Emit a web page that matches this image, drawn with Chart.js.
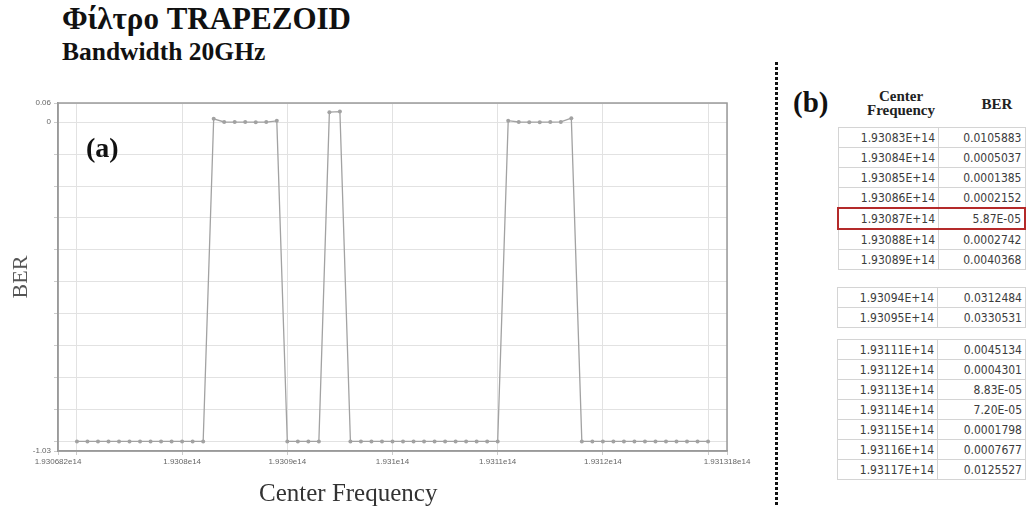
<!DOCTYPE html>
<html lang="el">
<head>
<meta charset="UTF-8">
<title>Φίλτρο TRAPEZOID</title>
<script src="https://cdn.jsdelivr.net/npm/chart.js"></script>
<style>
    body {
        margin: 0;
        width: 1026px;
        height: 507px;
        position: relative;
        overflow: hidden;
        background: #fff;
        font-family: 'Liberation Serif', 'Times New Roman', serif;
        color: #111;
    }
    .title {
        position: absolute; left: 62px; top: 3px;
        font-size: 31px; font-weight: bold; line-height: 1;
    }
    .subtitle {
        position: absolute; left: 62px; top: 39px;
        font-size: 25.5px; font-weight: bold; line-height: 1;
    }
    .panel {
        position: absolute; font-weight: bold; line-height: 1;
    }
    .x-title {
        position: absolute; left: 259px; top: 480px;
        font-size: 25px; line-height: 1; color: #333;
    }
    #chartBox {
        position: absolute; left: 0; top: 88px;
        width: 770px; height: 419px;
    }
    .divider {
        position: absolute; left: 775px; top: 62px;
        width: 3px; height: 445px;
        background: repeating-linear-gradient(to bottom, #111 0 3px, transparent 3px 5px);
    }
    .head {
        position: absolute; font-weight: bold; font-size: 15px;
        line-height: 14px; text-align: center; color: #222;
    }
    table.ber {
        position: absolute; left: 837px; width: 189px;
        border-collapse: collapse;
        font-family: 'DejaVu Sans Condensed', 'Liberation Sans', sans-serif;
        font-size: 12px; color: #3c3c3c;
        border: 1px solid #aaa;
    }
    table.ber td {
        border: 1px solid #d4d4d4;
        height: 19px;
        padding: 0 3px 0 0;
        text-align: right;
    }
    table.ber td:first-child { width: 96px; }
    table.ber tr.mark td { border-top: 2px solid #b42a2a; border-bottom: 2px solid #b42a2a; }
    table.ber tr.mark td:first-child { border-left: 2px solid #b42a2a; }
    table.ber tr.mark td:last-child { border-right: 2px solid #b42a2a; }
</style>
</head>
<body>

<div class="title">Φίλτρο TRAPEZOID</div>
<div class="subtitle">Bandwidth 20GHz</div>

<div id="chartBox"><canvas id="berChart"></canvas></div>
<div class="panel" style="left:86px; top:134px; font-size:28px;">(a)</div>
<div class="x-title">Center Frequency</div>

<div class="divider"></div>
<div class="panel" style="left:793px; top:88px; font-size:29px;">(b)</div>
<div class="head" style="left:858px; top:89px; width:86px;">Center<br>Frequency</div>
<div class="head" style="left:970px; top:97px; width:54px;">BER</div>
<div id="tables"></div>

<script>
// sweep of the filter centre frequency, 1 GHz steps (Hz)
const freqHz = [
    1.93070e14, 1.93071e14, 1.93072e14, 1.93073e14, 1.93074e14, 1.93075e14, 1.93076e14, 1.93077e14,
    1.93078e14, 1.93079e14, 1.93080e14, 1.93081e14, 1.93082e14, 1.93083e14, 1.93084e14, 1.93085e14,
    1.93086e14, 1.93087e14, 1.93088e14, 1.93089e14, 1.93090e14, 1.93091e14, 1.93092e14, 1.93093e14,
    1.93094e14, 1.93095e14, 1.93096e14, 1.93097e14, 1.93098e14, 1.93099e14, 1.93100e14, 1.93101e14,
    1.93102e14, 1.93103e14, 1.93104e14, 1.93105e14, 1.93106e14, 1.93107e14, 1.93108e14, 1.93109e14,
    1.93110e14, 1.93111e14, 1.93112e14, 1.93113e14, 1.93114e14, 1.93115e14, 1.93116e14, 1.93117e14,
    1.93118e14, 1.93119e14, 1.93120e14, 1.93121e14, 1.93122e14, 1.93123e14, 1.93124e14, 1.93125e14,
    1.93126e14, 1.93127e14, 1.93128e14, 1.93129e14, 1.93130e14
];

// BER per frequency; -1 where the receiver reports no result
const berPlotted = [
    -1, -1, -1, -1, -1, -1, -1, -1,
    -1, -1, -1, -1, -1, 0.0105883, 0.0005037, 0.0001385,
    0.0002152, 0.0000587, 0.0002742, 0.0040368, -1, -1, -1, -1,
    0.0312484, 0.0330531, -1, -1, -1, -1, -1, -1,
    -1, -1, -1, -1, -1, -1, -1, -1,
    -1, 0.0045134, 0.0004301, 0.0000883, 0.0000720, 0.0001798, 0.0007677, 0.0125527,
    -1, -1, -1, -1, -1, -1, -1, -1,
    -1, -1, -1, -1, -1
];

const xMin = 1.930682e14;
const xMax = 1.931318e14;
const xTickValues = [1.930682e14, 1.9307e14, 1.9308e14, 1.9309e14, 1.931e14, 1.9311e14, 1.9312e14, 1.9313e14, 1.931318e14];
const xTickLabels = ['1.930682e14', '', '1.9308e14', '1.9309e14', '1.931e14', '1.9311e14', '1.9312e14', '', '1.931318e14'];

const yMin = -1.03;
const yMax = 0.06;
const yTickValues = [-1.03, -1.0, -0.9, -0.8, -0.7, -0.6, -0.5, -0.4, -0.3, -0.2, -0.1, 0, 0.06];
const yTickLabels = ['-1.03', '', '', '', '', '', '', '', '', '', '', '0', '0.06'];

// rows of the side table, one list per passband
const tableFreq = [
    ['1.93083E+14', '1.93084E+14', '1.93085E+14', '1.93086E+14', '1.93087E+14', '1.93088E+14', '1.93089E+14'],
    ['1.93094E+14', '1.93095E+14'],
    ['1.93111E+14', '1.93112E+14', '1.93113E+14', '1.93114E+14', '1.93115E+14', '1.93116E+14', '1.93117E+14']
];
const tableBer = [
    ['0.0105883', '0.0005037', '0.0001385', '0.0002152', '5.87E-05', '0.0002742', '0.0040368'],
    ['0.0312484', '0.0330531'],
    ['0.0045134', '0.0004301', '8.83E-05', '7.20E-05', '0.0001798', '0.0007677', '0.0125527']
];
const tableTops = [127, 287, 339];
const markedRow = '1.93087E+14';

// side tables
const holder = document.getElementById('tables');
tableFreq.forEach((group, g) => {
    const t = document.createElement('table');
    t.className = 'ber';
    t.style.top = tableTops[g] + 'px';
    group.forEach((f, i) => {
        const tr = document.createElement('tr');
        if (f === markedRow) tr.className = 'mark';
        tr.innerHTML = `<td>${f}</td><td>${tableBer[g][i]}</td>`;
        t.appendChild(tr);
    });
    holder.appendChild(t);
});

// box round the plot area
const frame = {
    id: 'frame',
    afterDraw(chart) {
        const {ctx, chartArea: a} = chart;
        ctx.save();
        ctx.strokeStyle = '#9a9a9a';
        ctx.lineWidth = 1.5;
        ctx.strokeRect(a.left, a.top, a.right - a.left, a.bottom - a.top);
        ctx.restore();
    }
};

const tickFont = { family: "'Liberation Sans', Arial, sans-serif", size: 8 };

new Chart(document.getElementById('berChart'), {
    type: 'line',
    data: {
        datasets: [{
            data: freqHz.map((f, i) => ({ x: f, y: berPlotted[i] })),
            borderColor: '#a2a2a2',
            borderWidth: 1.3,
            pointRadius: 2,
            pointBackgroundColor: '#a2a2a2',
            pointBorderWidth: 0,
            tension: 0
        }]
    },
    options: {
        responsive: true,
        maintainAspectRatio: false,
        animation: false,
        layout: { padding: { top: 15, right: 43, left: 0, bottom: 0 } },
        plugins: { legend: { display: false }, tooltip: { enabled: false } },
        scales: {
            x: {
                type: 'linear',
                min: xMin,
                max: xMax,
                afterBuildTicks: s => { s.ticks = xTickValues.map(v => ({ value: v })); },
                afterFit: s => { s.height = 56; },
                ticks: {
                    autoSkip: false,
                    maxRotation: 0,
                    padding: 2,
                    color: '#666',
                    font: tickFont,
                    callback: (v, i) => xTickLabels[i]
                },
                grid: { color: '#e2e2e2', tickLength: 4, tickColor: '#ccc' },
                border: { color: '#9a9a9a', width: 1.5 }
            },
            y: {
                min: yMin,
                max: yMax,
                afterBuildTicks: s => { s.ticks = yTickValues.map(v => ({ value: v })); },
                afterFit: s => { s.width = 58; },
                ticks: {
                    autoSkip: false,
                    padding: 3,
                    color: '#666',
                    font: tickFont,
                    callback: (v, i) => yTickLabels[i]
                },
                grid: { color: '#e2e2e2', tickLength: 4, tickColor: '#ccc' },
                border: { color: '#9a9a9a', width: 1.5 },
                title: {
                    display: true,
                    text: 'BER',
                    color: '#555',
                    font: { family: "'Liberation Serif', serif", size: 22 },
                    padding: { top: 8, bottom: 0 }
                }
            }
        }
    },
    plugins: [frame]
});
</script>

</body>
</html>
